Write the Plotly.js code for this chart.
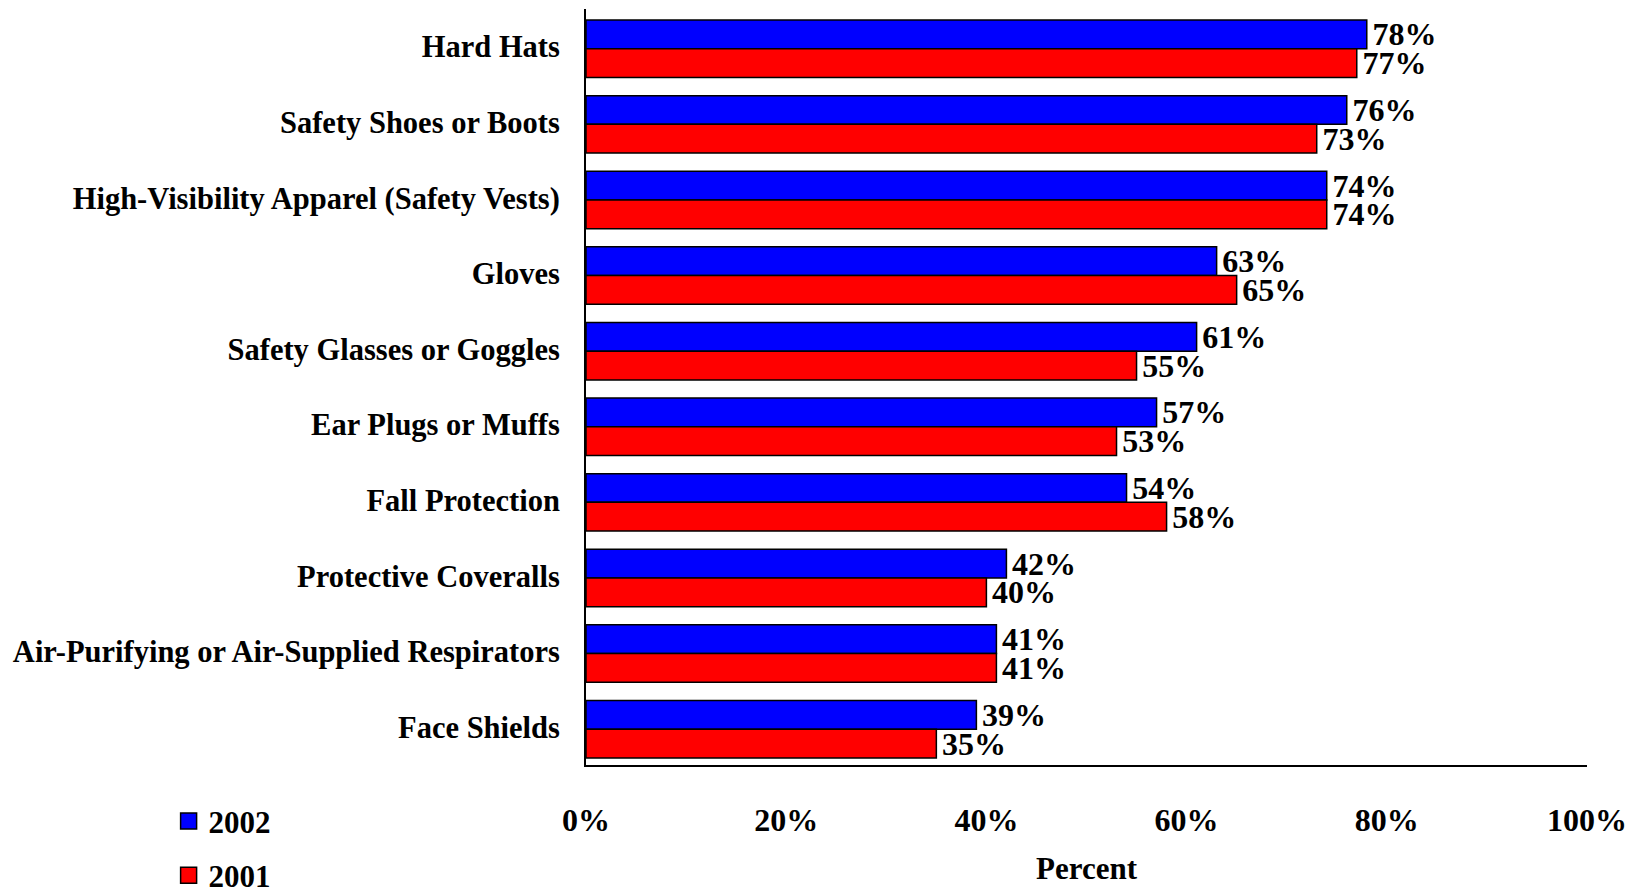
<!DOCTYPE html>
<html>
<head>
<meta charset="utf-8">
<script src="https://cdn.plot.ly/plotly-3.0.1.min.js"></script>
<style>
  html, body { margin: 0; padding: 0; background: #ffffff; }
  #chart { width: 1637px; height: 892px; }
</style>
</head>
<body>
<div id="chart"></div>
<script>
const categories = [
  "Hard Hats",
  "Safety Shoes or Boots",
  "High-Visibility Apparel (Safety Vests)",
  "Gloves",
  "Safety Glasses or Goggles",
  "Ear Plugs or Muffs",
  "Fall Protection",
  "Protective Coveralls",
  "Air-Purifying or Air-Supplied Respirators",
  "Face Shields"
];
const values2002 = [78, 76, 74, 63, 61, 57, 54, 42, 41, 39];
const values2001 = [77, 73, 74, 65, 55, 53, 58, 40, 41, 35];
const seriesNames = ["2002", "2001"];
const xTickVals = [0, 20, 40, 60, 80, 100];
const xTickText = ["0%", "20%", "40%", "60%", "80%", "100%"];

const FONT = "'Liberation Serif', 'Times New Roman', Times, serif";

function barTrace(name, values, color, offset) {
  return {
    type: "bar",
    orientation: "h",
    name: name,
    y: categories,
    x: values,
    width: 0.38,
    offset: offset,
    text: values.map(v => "\u200A" + v + "%"),
    textposition: "outside",
    constraintext: "none",
    cliponaxis: false,
    textfont: { family: FONT, size: 32, weight: "bold", color: "#000000" },
    marker: { color: color, line: { color: "#000000", width: 1.5 } },
    showlegend: false,
    hoverinfo: "x+y"
  };
}

function legendTrace(name, color, group) {
  return {
    type: "scatter",
    mode: "markers",
    name: name,
    x: [null],
    y: [null],
    legendgroup: group,
    marker: { symbol: "square", size: 16, color: color, line: { color: "#000000", width: 1.5 } },
    showlegend: true,
    hoverinfo: "skip"
  };
}

const data = [
  barTrace(seriesNames[0], values2002, "#0000FF", -0.354),
  barTrace(seriesNames[1], values2001, "#FF0000", 0.026),
  legendTrace(seriesNames[0], "#0000FF", "g1"),
  legendTrace(seriesNames[1], "#FF0000", "g2")
];

const layout = {
  width: 1637,
  height: 892,
  paper_bgcolor: "#ffffff",
  plot_bgcolor: "#ffffff",
  margin: { l: 586, r: 50, t: 9, b: 127, pad: 0 },
  barmode: "group",
  bargap: 0.24,
  bargroupgap: 0,
  font: { family: FONT, color: "#000000" },
  showlegend: true,
  legend: {
    xref: "container", yref: "container",
    x: 0.103, y: 0.1095, xanchor: "left", yanchor: "top",
    traceorder: "grouped",
    tracegroupgap: 11,
    font: { family: FONT, size: 31, weight: "bold", color: "#000000" },
    bgcolor: "rgba(0,0,0,0)",
    borderwidth: 0
  },
  xaxis: {
    range: [0, 100],
    tickmode: "array",
    tickvals: xTickVals,
    ticktext: xTickText,
    showline: true,
    linecolor: "#000000",
    linewidth: 2,
    ticks: "",
    showgrid: false,
    zeroline: false,
    ticklabelstandoff: 26,
    tickfont: { family: FONT, size: 32, weight: "bold", color: "#000000" },
    title: {
      text: "Percent",
      font: { family: FONT, size: 31, weight: "bold", color: "#000000" },
      standoff: 20
    },
    fixedrange: true
  },
  yaxis: {
    autorange: "reversed",
    showline: true,
    linecolor: "#000000",
    linewidth: 2,
    ticks: "",
    showgrid: false,
    zeroline: false,
    ticklabelstandoff: 18,
    tickfont: { family: FONT, size: 30.5, weight: "bold", color: "#000000" },
    fixedrange: true
  }
};

Plotly.newPlot("chart", data, layout, { displayModeBar: false });
</script>
</body>
</html>
